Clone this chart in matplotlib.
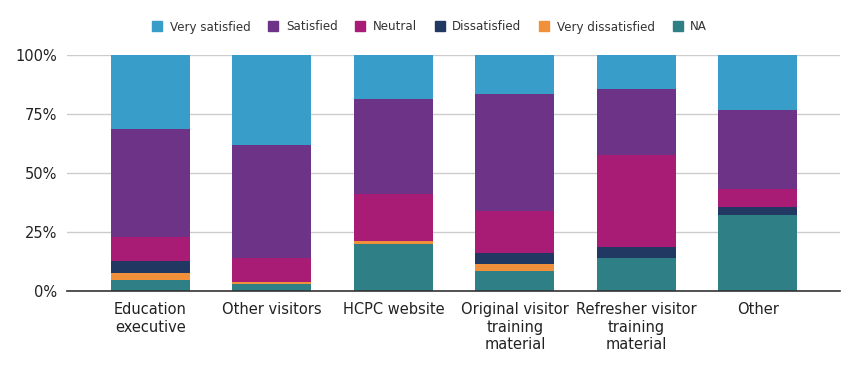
import matplotlib.pyplot as plt
import numpy as np

categories = ['Education\nexecutive', 'Other visitors', 'HCPC website',
              'Original visitor\ntraining\nmaterial', 'Refresher visitor\ntraining\nmaterial', 'Other']

# shares in percent, bottom to top
na = [4.7, 3.0, 19.9, 8.5, 14.0, 32.2]
very_dissatisfied = [3.0, 0.8, 1.3, 3.0, 0.0, 0.0]
dissatisfied = [5.1, 0.0, 0.0, 4.6, 4.7, 3.4]
neutral = [10.2, 10.2, 20.1, 17.6, 38.9, 7.7]
satisfied = [45.8, 48.0, 40.2, 49.9, 28.1, 33.5]
very_satisfied = [31.2, 38.0, 18.5, 16.4, 14.3, 23.2]

series = [
    ('NA', na, '#2e7f86'),
    ('Very dissatisfied', very_dissatisfied, '#f0903a'),
    ('Dissatisfied', dissatisfied, '#213862'),
    ('Neutral', neutral, '#a81c76'),
    ('Satisfied', satisfied, '#6d3386'),
    ('Very satisfied', very_satisfied, '#399dc9'),
]

fig = plt.figure(figsize=(8.59, 3.71), dpi=100)
ax = fig.add_axes([67 / 859, 80 / 371, 773 / 859, 236 / 371])

x = np.arange(len(categories))
bottom = np.zeros(len(categories))
for name, vals, color in series:
    vals = np.array(vals) / 100
    ax.bar(x, vals, bottom=bottom, width=0.65, color=color, zorder=3, linewidth=0)
    bottom += vals

ax.set_xlim(-0.687, 5.675)
ax.set_ylim(0, 1)
ax.set_yticks([0, 0.25, 0.5, 0.75, 1.0])
ax.set_yticklabels(['0%', '25%', '50%', '75%', '100%'], fontsize=10.5, color='#222222')
ax.set_xticks(x)
ax.set_xticklabels(categories, fontsize=10.5, color='#222222', linespacing=1.2)
ax.tick_params(axis='y', length=0, pad=7)
ax.tick_params(axis='x', length=0, pad=8)
ax.grid(axis='y', color='#cccccc', linewidth=1, zorder=0)
for s in ['top', 'right', 'left']:
    ax.spines[s].set_visible(False)
ax.spines['bottom'].set_color('#333333')
ax.spines['bottom'].set_linewidth(1.2)
ax.spines['bottom'].set_zorder(4)

order = ['Very satisfied', 'Satisfied', 'Neutral', 'Dissatisfied', 'Very dissatisfied', 'NA']
colors = {n: c for n, _, c in series}
legend_handles = [plt.Line2D([], [], marker='s', linestyle='', markersize=7.4,
                             markerfacecolor=colors[n], markeredgecolor=colors[n]) for n in order]
fig.legend(legend_handles, order, loc='center', bbox_to_anchor=(0.5, 344 / 371), ncol=6,
           frameon=False, fontsize=8.6, handlelength=0.9, handletextpad=0.6,
           columnspacing=1.45, labelcolor='#333333')

fig.savefig('out.png', dpi=100)
